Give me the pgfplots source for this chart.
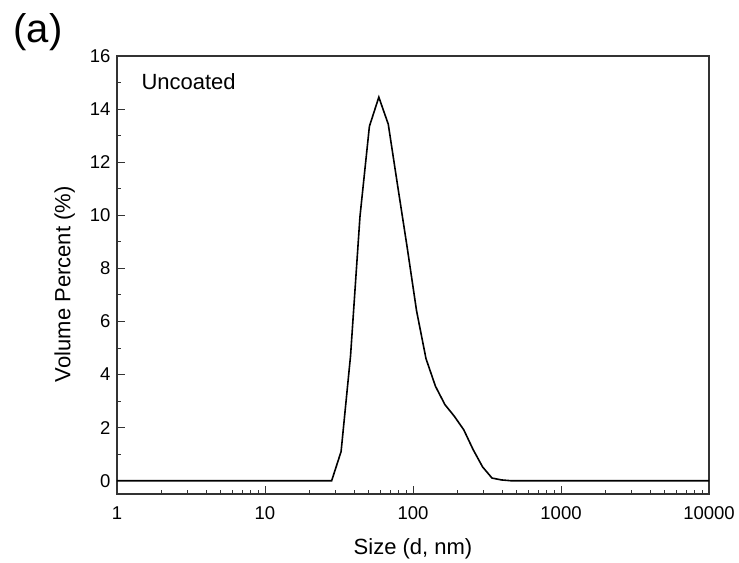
\documentclass[border=0pt]{standalone}
\usepackage{fontspec}
\setmainfont{Liberation Sans}
\usepackage{pgfplots}
\pgfplotsset{compat=1.18}

\begin{document}
\begin{tikzpicture}
\begin{semilogxaxis}[
    scale only axis,
    width=592pt,
    height=438pt,
    xmin=1, xmax=10000,
    ymin=-0.5, ymax=16,
    xtick={1,10,100,1000,10000},
    xticklabels={1,10,100,1000,10000},
    ytick={0,2,4,6,8,10,12,14,16},
    minor ytick={1,3,5,7,9,11,13,15},
    xtick pos=bottom,
    ytick pos=left,
    tick align=inside,
    major tick length=8pt,
    minor tick length=4.5pt,
    axis line style={black!80, line width=1.1pt},
    every tick/.style={black!80, line width=0.9pt},
    /pgf/number format/assume math mode=true,
    tick label style={font=\fontsize{18.5}{21}\selectfont},
    xticklabel style={yshift=-9pt},
    yticklabel style={xshift=-3pt},
    label style={font=\fontsize{22}{26}\selectfont},
    xlabel={Size (d, nm)},
    ylabel={Volume Percent (\%)},
    xlabel style={yshift=-12pt},
    ylabel style={at={(ticklabel cs:0.479)}, yshift=8pt},
    clip=false,
]

% DLS volume distribution
\addplot[black, line width=1.6pt, line join=miter] coordinates {
    (1,0) (10,0) (24.36,0) (28.21,0) (32.67,1.1) (37.84,4.7) (43.82,9.95)
    (50.75,13.35) (58.77,14.45) (68.06,13.43) (78.82,11.1) (91.28,8.8)
    (105.7,6.4) (122.4,4.6) (141.8,3.56) (164.2,2.87) (190.1,2.43)
    (220.2,1.92) (255.0,1.17) (295.3,0.52) (342.0,0.1) (396.1,0.03)
    (458.7,0) (1000,0) (10000,0)
};

\node[anchor=west, font=\fontsize{22}{26}\selectfont]
    at (rel axis cs:0,1) [xshift=21pt, yshift=-26pt] {Uncoated};
\node[font=\fontsize{40}{46}\selectfont]
    at (rel axis cs:0,1) [xshift=-79pt, yshift=24pt] {(a)};

% page margins as in the original figure
\path ([xshift=-117pt, yshift=-67pt]rel axis cs:0,0)
    rectangle ([xshift=30pt, yshift=56pt]rel axis cs:1,1);

\end{semilogxaxis}
\end{tikzpicture}
\end{document}
